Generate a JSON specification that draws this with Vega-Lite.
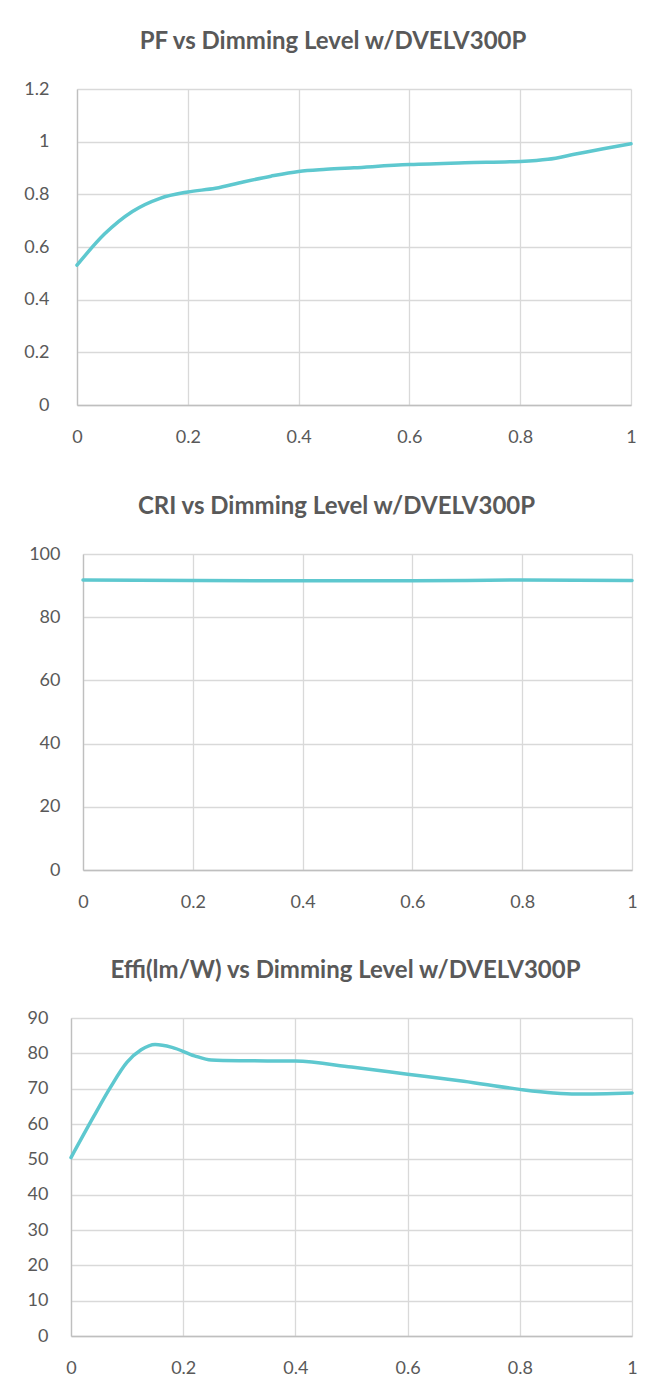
{
  "$schema": "https://vega.github.io/schema/vega-lite/v6.json",
  "background": "white",
  "autosize": {"type": "pad"},
  "padding": {"left": 14, "top": 30, "right": 5, "bottom": 5},
  "spacing": 45,
  "config": {
    "font": "Lato",
    "view": {"stroke": null},
    "title": {"fontSize": 24, "fontWeight": "bold", "color": "#595959", "offset": 26, "anchor": "middle", "font": "Lato", "frame": "group"},
    "axis": {"ticks": false, "grid": true, "gridColor": "#d9d9d9", "gridWidth": 1.3, "domainColor": "#bfbfbf", "domainWidth": 1.3, "labelColor": "#595959", "labelFontSize": 18, "labelFont": "Lato"},
    "axisX": {"labelPadding": 23, "labelFlush": false},
    "line": {"color": "#5ec8cf", "strokeWidth": 3.5, "interpolate": "monotone", "strokeCap": "round"}
  },
  "datasets": {
    "pf": [
      {"level": 0, "pf": 0.531}, {"level": 0.05, "pf": 0.65}, {"level": 0.1, "pf": 0.735},
      {"level": 0.15, "pf": 0.785}, {"level": 0.2, "pf": 0.809}, {"level": 0.25, "pf": 0.823},
      {"level": 0.3, "pf": 0.847}, {"level": 0.35, "pf": 0.869}, {"level": 0.4, "pf": 0.887},
      {"level": 0.45, "pf": 0.895}, {"level": 0.5, "pf": 0.901}, {"level": 0.6, "pf": 0.913},
      {"level": 0.7, "pf": 0.92}, {"level": 0.8, "pf": 0.925}, {"level": 0.85, "pf": 0.933},
      {"level": 0.9, "pf": 0.953}, {"level": 0.95, "pf": 0.973}, {"level": 1, "pf": 0.992}
    ],
    "cri": [
      {"level": 0, "cri": 91.8}, {"level": 0.2, "cri": 91.6}, {"level": 0.4, "cri": 91.5},
      {"level": 0.6, "cri": 91.5}, {"level": 0.8, "cri": 91.8}, {"level": 1, "cri": 91.6}
    ],
    "eff": [
      {"level": 0, "eff": 50.5}, {"level": 0.04, "eff": 62}, {"level": 0.07, "eff": 70.3},
      {"level": 0.1, "eff": 77.5}, {"level": 0.125, "eff": 81}, {"level": 0.15, "eff": 82.5},
      {"level": 0.18, "eff": 81.7}, {"level": 0.22, "eff": 79.3}, {"level": 0.25, "eff": 78.1},
      {"level": 0.3, "eff": 77.9}, {"level": 0.4, "eff": 77.8}, {"level": 0.5, "eff": 76.1},
      {"level": 0.6, "eff": 74.1}, {"level": 0.7, "eff": 72.1}, {"level": 0.8, "eff": 69.8},
      {"level": 0.86, "eff": 68.8}, {"level": 0.9, "eff": 68.5}, {"level": 1, "eff": 68.8}
    ],
    "none": []
  },
  "vconcat": [
    {
      "spacing": 0,
      "hconcat": [
        {"width": 7, "height": 10, "data": {"name": "none"}, "mark": "point"},
        {
          "width": 554,
          "height": 316,
          "title": {"text": "PF vs Dimming Level w/DVELV300P", "dx": -21},
          "data": {"name": "pf"},
          "mark": {"type": "line"},
          "encoding": {
            "x": {"field": "level", "type": "quantitative", "scale": {"domain": [0, 1], "nice": false},
                  "axis": {"title": null, "values": [0, 0.2, 0.4, 0.6, 0.8, 1], "format": "~r", "minExtent": 45}},
            "y": {"field": "pf", "type": "quantitative", "scale": {"domain": [0, 1.2], "nice": false},
                  "axis": {"title": null, "values": [0, 0.2, 0.4, 0.6, 0.8, 1, 1.2], "format": "~r", "minExtent": 56, "labelPadding": 28}}
          }
        }
      ]
    },
    {
      "spacing": 0,
      "hconcat": [
        {"width": 13, "height": 10, "data": {"name": "none"}, "mark": "point"},
        {
          "width": 549,
          "height": 316,
          "title": {"text": "CRI vs Dimming Level w/DVELV300P", "dx": -21},
          "data": {"name": "cri"},
          "mark": {"type": "line"},
          "encoding": {
            "x": {"field": "level", "type": "quantitative", "scale": {"domain": [0, 1], "nice": false},
                  "axis": {"title": null, "values": [0, 0.2, 0.4, 0.6, 0.8, 1], "format": "~r", "minExtent": 44}},
            "y": {"field": "cri", "type": "quantitative", "scale": {"domain": [0, 100], "nice": false},
                  "axis": {"title": null, "values": [0, 20, 40, 60, 80, 100], "format": "d", "minExtent": 56, "labelPadding": 23}}
          }
        }
      ]
    },
    {
      "spacing": 0,
      "hconcat": [
        {"width": 1, "height": 10, "data": {"name": "none"}, "mark": "point"},
        {
          "width": 561,
          "height": 318,
          "title": {"text": "Effi(lm/W) vs Dimming Level w/DVELV300P", "dx": -6},
          "data": {"name": "eff"},
          "mark": {"type": "line"},
          "encoding": {
            "x": {"field": "level", "type": "quantitative", "scale": {"domain": [0, 1], "nice": false},
                  "axis": {"title": null, "values": [0, 0.2, 0.4, 0.6, 0.8, 1], "format": "~r", "minExtent": 45}},
            "y": {"field": "eff", "type": "quantitative", "scale": {"domain": [0, 90], "nice": false},
                  "axis": {"title": null, "values": [0, 10, 20, 30, 40, 50, 60, 70, 80, 90], "format": "d", "minExtent": 56, "labelPadding": 23}}
          }
        }
      ]
    }
  ]
}
